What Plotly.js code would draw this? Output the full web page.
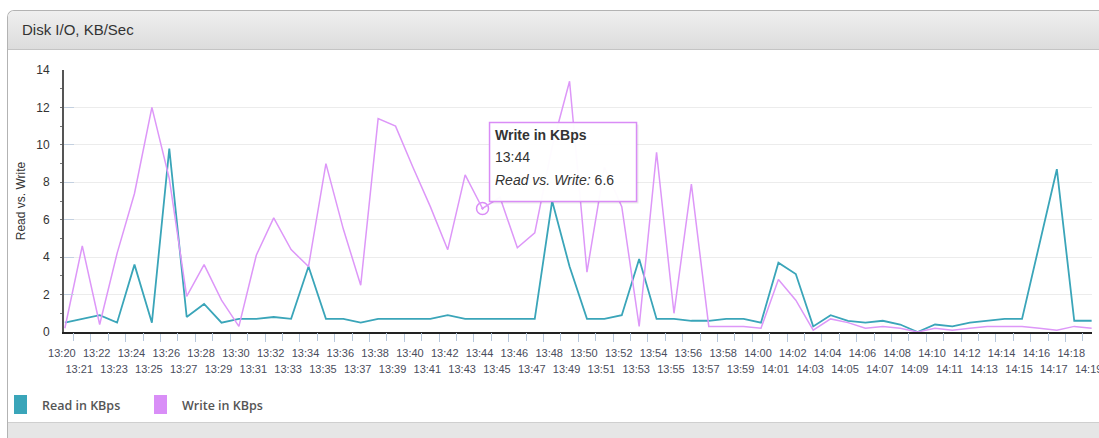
<!DOCTYPE html>
<html>
<head>
<meta charset="utf-8">
<script src="https://cdn.plot.ly/plotly-3.0.1.min.js"></script>
<style>
html,body{margin:0;padding:0;background:#fff;width:1099px;height:438px;overflow:hidden;}
#panel{position:absolute;left:7px;top:10px;width:1110px;height:440px;border:1px solid #b3b3b3;border-right:none;border-bottom:none;border-top-left-radius:7px;background:#fff;overflow:hidden;box-sizing:border-box;}
#hdr{position:absolute;left:0;top:0;right:0;height:38px;background:linear-gradient(#efefef,#dcdcdc);border-bottom:1px solid #c4c4c4;}
#ftr{position:absolute;left:0;top:411px;right:0;bottom:0;background:#e6e6e6;border-top:1px solid #cfcfcf;}
#chart{position:absolute;left:0;top:0;width:1099px;height:438px;}
</style>
</head>
<body>
<div id="panel"><div id="hdr"></div><div id="ftr"></div></div>
<div id="chart"></div>
<script>
// ---- data ----
var times = ["13:20","13:21","13:22","13:23","13:24","13:25","13:26","13:27","13:28","13:29",
             "13:30","13:31","13:32","13:33","13:34","13:35","13:36","13:37","13:38","13:39",
             "13:40","13:41","13:42","13:43","13:44","13:45","13:46","13:47","13:48","13:49",
             "13:50","13:51","13:52","13:53","13:54","13:55","13:56","13:57","13:58","13:59",
             "14:00","14:01","14:02","14:03","14:04","14:05","14:06","14:07","14:08","14:09",
             "14:10","14:11","14:12","14:13","14:14","14:15","14:16","14:17","14:18","14:19"];
var readKBps = [0.5,0.7,0.9,0.5,3.6,0.5,9.8,0.8,1.5,0.5,
                0.7,0.7,0.8,0.7,3.5,0.7,0.7,0.5,0.7,0.7,
                0.7,0.7,0.9,0.7,0.7,0.7,0.7,0.7,7.0,3.5,
                0.7,0.7,0.9,3.9,0.7,0.7,0.6,0.6,0.7,0.7,
                0.5,3.7,3.1,0.3,0.9,0.6,0.5,0.6,0.4,0.0,
                0.4,0.3,0.5,0.6,0.7,0.7,4.7,8.7,0.6,0.6];
var writeKBps = [0.2,4.6,0.4,4.2,7.4,12.0,8.2,1.9,3.6,1.7,
                 0.3,4.1,6.1,4.4,3.5,9.0,5.5,2.5,11.4,11.0,
                 8.8,6.7,4.4,8.4,6.6,7.2,4.5,5.3,9.9,13.4,
                 3.2,8.8,6.7,0.3,9.6,1.0,7.9,0.3,0.3,0.3,
                 0.2,2.8,1.7,0.1,0.7,0.5,0.2,0.3,0.2,0.0,
                 0.2,0.1,0.2,0.3,0.3,0.3,0.2,0.1,0.3,0.2];
var seriesNames = ["Read in KBps","Write in KBps"];
var yTickVals = [0,2,4,6,8,10,12,14];
var hoverTime = "13:44";

// ---- styling ----
var readColor = "#3aa5b9", writeColor = "#dd97f8";
var L = 64, R = 7, T = 70, B = 106, W = 1099, H = 438;
var pw = W - L - R, ph = H - T - B;
function px(x){ return (x - L) / pw; }
function py(y){ return (H - B - y) / ph; }

var hi = times.indexOf(hoverTime);
var xr = [-0.05, times.length - 1 + 0.02];

var traces = [
  {x: times, y: readKBps, name: seriesNames[0], type: "scatter", mode: "lines",
   line: {color: readColor, width: 1.8}, xaxis: "x", yaxis: "y", showlegend: false},
  {x: times, y: writeKBps, name: seriesNames[1], type: "scatter", mode: "lines",
   line: {color: writeColor, width: 1.5}, xaxis: "x2", yaxis: "y", showlegend: false},
  {x: [times[hi]], y: [writeKBps[hi]], name: seriesNames[1], type: "scatter", mode: "markers",
   marker: {symbol: "circle-open-dot", size: 12, color: "#d98cf6", line: {width: 1.5, color: "#d98cf6"}},
   xaxis: "x", yaxis: "y", showlegend: false}
];

var tickFont = {family: "Liberation Sans Narrow, Arial Narrow, sans-serif", size: 11, color: "#4a4d5c"};

var layout = {
  width: W, height: H,
  margin: {l: L, r: R, t: T, b: B, pad: 0},
  paper_bgcolor: "rgba(0,0,0,0)",
  plot_bgcolor: "rgba(0,0,0,0)",
  showlegend: false,
  hovermode: false,
  title: {text: "Disk I/O, KB/Sec", x: 22 / W, xanchor: "left", xref: "container",
          y: 1 - 30 / H, yanchor: "middle", yref: "container",
          font: {family: "Liberation Sans, Arial, sans-serif", size: 15, color: "#333"}},
  xaxis: {type: "category", range: xr, tickmode: "linear", tick0: 0, dtick: 2,
          tickson: "boundaries",
          ticks: "outside", ticklen: 8, tickcolor: "#b8c8dc", tickwidth: 1,
          showgrid: false, zeroline: false, showline: true, linecolor: "#222", linewidth: 2,
          tickfont: tickFont, tickangle: 0, ticklabelstandoff: 10, ticklabelshift: -3, automargin: false},
  xaxis2: {type: "category", range: xr, overlaying: "x", anchor: "y", side: "bottom",
           tickmode: "linear", tick0: 1, dtick: 2, tickson: "boundaries",
           ticks: "outside", ticklen: 8, tickcolor: "#b8c8dc", tickwidth: 1,
           showgrid: false, zeroline: false, showline: false,
           tickfont: tickFont, tickangle: 0, ticklabelstandoff: 29, ticklabelshift: -3, automargin: false},
  yaxis: {range: [0, 14], tickmode: "array", tickvals: yTickVals,
          ticks: "inside", ticklen: 10, tickcolor: "#c3d0e0", tickwidth: 1,
          minor: {dtick: 1, ticks: "outside", ticklen: 2, tickcolor: "#777", showgrid: false},
          showgrid: true, gridcolor: "#ececec", gridwidth: 1, zeroline: false,
          showline: true, linecolor: "#555", linewidth: 2,
          tickfont: {family: "Liberation Sans, Arial, sans-serif", size: 12, color: "#333"},
          ticklabelstandoff: 10, automargin: false,
          title: {text: "Read vs. Write", standoff: 8,
                  font: {family: "Liberation Sans, Arial, sans-serif", size: 12, color: "#333"}}},
  shapes: [
    {type: "rect", xref: "x", yref: "y", xsizemode: "pixel", ysizemode: "pixel",
     xanchor: times[hi], yanchor: writeKBps[hi], x0: 9, x1: 156, y0: 5, y1: 84,
     fillcolor: "rgba(0,0,0,0.08)", line: {width: 0}, layer: "above"},
    {type: "rect", xref: "x", yref: "y", xsizemode: "pixel", ysizemode: "pixel",
     xanchor: times[hi], yanchor: writeKBps[hi], x0: 7, x1: 154, y0: 7, y1: 86,
     fillcolor: "rgba(255,255,255,0.97)", line: {width: 1.5, color: "#d98cf6"}, layer: "above"},
    {type: "rect", xref: "paper", yref: "paper", x0: px(14), x1: px(27), y0: py(414), y1: py(395),
     fillcolor: readColor, line: {width: 0}},
    {type: "rect", xref: "paper", yref: "paper", x0: px(154), x1: px(167), y0: py(414), y1: py(395),
     fillcolor: "#d98ef7", line: {width: 0}}
  ],
  annotations: [
    {xref: "x", yref: "y", x: times[hi], y: writeKBps[hi], xanchor: "left", yanchor: "middle",
     xshift: 10, yshift: 73, showarrow: false, text: "<b>" + seriesNames[1] + "</b>",
     font: {family: "Liberation Sans, Arial, sans-serif", size: 14, color: "#333"}},
    {xref: "x", yref: "y", x: times[hi], y: writeKBps[hi], xanchor: "left", yanchor: "middle",
     xshift: 10, yshift: 51, showarrow: false, text: times[hi],
     font: {family: "Liberation Sans, Arial, sans-serif", size: 14, color: "#333"}},
    {xref: "x", yref: "y", x: times[hi], y: writeKBps[hi], xanchor: "left", yanchor: "middle",
     xshift: 10, yshift: 28, showarrow: false, text: "<i>Read vs. Write:</i> " + writeKBps[hi],
     font: {family: "Liberation Sans, Arial, sans-serif", size: 14, color: "#333"}},
    {xref: "paper", yref: "paper", x: px(40), y: py(405), xanchor: "left", yanchor: "middle",
     showarrow: false, text: seriesNames[0],
     font: {family: "Open Sans, sans-serif", size: 12.5, color: "#555", weight: 600}},
    {xref: "paper", yref: "paper", x: px(180), y: py(405), xanchor: "left", yanchor: "middle",
     showarrow: false, text: seriesNames[1],
     font: {family: "Open Sans, sans-serif", size: 12.5, color: "#555", weight: 600}}
  ]
};

Plotly.newPlot("chart", traces, layout, {displayModeBar: false, staticPlot: true});
</script>
</body>
</html>
